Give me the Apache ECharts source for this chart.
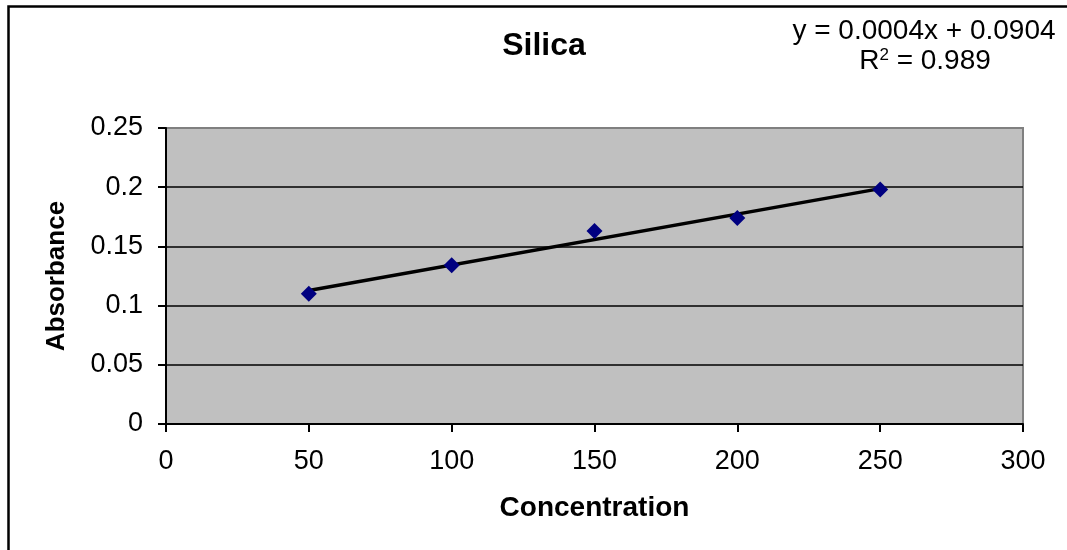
<!DOCTYPE html>
<html>
<head>
<meta charset="utf-8">
<script src="https://cdn.jsdelivr.net/npm/echarts@6/dist/echarts.min.js"></script>
<style>
html,body{margin:0;padding:0;background:#fff;}
#chart{width:1067px;height:550px;}
</style>
</head>
<body>
<div id="chart"></div>
<script>
// Data
var concentration = [50, 100, 150, 200, 250];
var absorbance = [0.110, 0.134, 0.163, 0.174, 0.198];
// Linear trendline end points (as drawn in the picture)
var trendX = [50, 250];
var trendY = [0.1128, 0.1988];
var equationText = 'y = 0.0004x + 0.0904';
var r2Value = '0.989';
var chartTitle = 'Silica';
var xName = 'Concentration';
var yName = 'Absorbance';

var FONT = "'Liberation Sans', Arial, Helvetica, sans-serif";

var points = concentration.map(function (c, i) { return [c, absorbance[i]]; });
var trend = trendX.map(function (x, i) { return [x, trendY[i]]; });

var chart = echarts.init(document.getElementById('chart'));
chart.setOption({
  backgroundColor: '#ffffff',
  animation: false,
  title: {
    text: chartTitle,
    left: 539,
    top: 25,
    textAlign: 'center',
    textStyle: { fontFamily: FONT, fontSize: 32, fontWeight: 'bold', color: '#000' }
  },
  grid: {
    left: 166, right: 44, top: 128, bottom: 126,
    show: true,
    backgroundColor: '#c0c0c0',
    borderColor: '#808080',
    borderWidth: 2
  },
  xAxis: {
    type: 'value',
    min: 0, max: 300, interval: 50,
    name: xName,
    nameLocation: 'middle',
    nameGap: 70,
    nameTextStyle: { fontFamily: FONT, fontSize: 28, fontWeight: 'bold', color: '#000' },
    axisLine: { show: true, onZero: false, lineStyle: { color: '#000', width: 2 } },
    axisTick: { show: true, inside: false, length: 8, lineStyle: { color: '#000', width: 2 } },
    axisLabel: { margin: 24, fontFamily: FONT, fontSize: 27, color: '#000' },
    splitLine: { show: false }
  },
  yAxis: {
    type: 'value',
    min: 0, max: 0.25, interval: 0.05,
    name: yName,
    nameLocation: 'middle',
    nameGap: 96,
    nameRotate: 90,
    nameTextStyle: { fontFamily: FONT, fontSize: 26, fontWeight: 'bold', color: '#000' },
    axisLine: { show: true, onZero: false, lineStyle: { color: '#000', width: 2 } },
    axisTick: { show: true, inside: false, length: 8, lineStyle: { color: '#000', width: 2 } },
    axisLabel: { margin: 23, fontFamily: FONT, fontSize: 27, color: '#000' },
    splitLine: { show: true, showMinLine: false, showMaxLine: false, lineStyle: { color: '#000', width: 1.5 } }
  },
  graphic: [
    {
      type: 'rect',
      left: 6, top: 4,
      shape: { x: 0, y: 0, width: 1100, height: 600 },
      style: { fill: 'none', stroke: '#000', lineWidth: 2.5 },
      z: 100, silent: true
    },
    {
      type: 'text',
      x: 924, y: 31,
      style: {
        text: equationText,
        fontFamily: FONT, fontSize: 28, fill: '#000',
        textAlign: 'center', textVerticalAlign: 'middle'
      }
    },
    {
      type: 'text',
      x: 925, y: 61,
      style: {
        text: 'R{sup|2} = ' + r2Value,
        fontFamily: FONT, fontSize: 28, fill: '#000',
        textAlign: 'center', textVerticalAlign: 'middle',
        rich: {
          sup: { fontFamily: FONT, fontSize: 17, fill: '#000', verticalAlign: 'top', padding: [0, 0, 12, 0] }
        }
      }
    }
  ],
  series: [
    {
      name: 'Linear trend',
      type: 'line',
      data: trend,
      symbol: 'none',
      lineStyle: { color: '#000', width: 3.5 },
      z: 3
    },
    {
      name: 'Silica',
      type: 'scatter',
      data: points,
      symbol: 'diamond',
      symbolSize: [16, 16],
      itemStyle: { color: '#000080', opacity: 1 },
      z: 4
    }
  ]
});
</script>
</body>
</html>
